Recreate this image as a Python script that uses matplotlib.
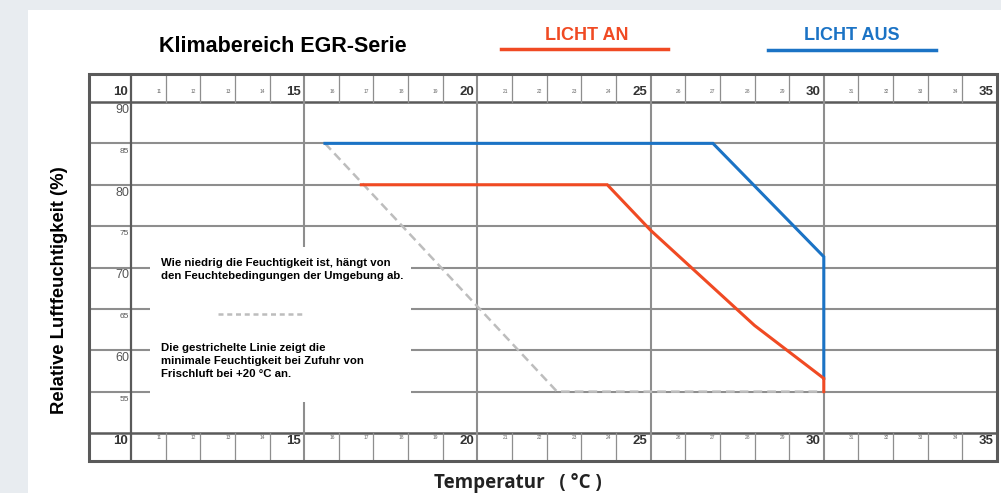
import matplotlib.pyplot as plt
from matplotlib.patches import Rectangle

# data
temps = list(range(10, 36))
rh_levels = [90, 85, 80, 75, 70, 65, 60, 55]

licht_an_t = [16.65, 23.75, 25.0, 28.0, 30.0, 30.0]
licht_an_rh = [80.0, 80.0, 74.5, 63.0, 56.6, 55.0]

licht_aus_t = [15.6, 26.8, 30.0, 30.0]
licht_aus_rh = [85.0, 85.0, 71.3, 56.6]

min_rh_t = [15.6, 22.3, 30.0]
min_rh_v = [85.0, 55.0, 55.0]

RED = '#f04a23'
BLUE = '#1b73c5'
GRID = '#8e8e8e'
FRAME = '#5a5a5a'
DASH = '#bdbdbd'

plt.rcParams['font.family'] = ['Liberation Sans', 'DejaVu Sans']

fig = plt.figure(figsize=(10.01, 4.93), dpi=100)
fig.patch.set_facecolor('#e8ecf0')
fig.patches.append(Rectangle((28 / 1001, 0), 1, 1 - 10 / 493, transform=fig.transFigure,
                             facecolor='white', edgecolor='none', zorder=-10))

# axes covers the whole table frame, header rows included
x_left, x_right = 10 - 42 / 34.68, 35
y_bot, y_top = 50 - 28 / 8.275, 90 + 28 / 8.275
ax = fig.add_axes([89 / 1001, 32 / 493, 908 / 1001, 387 / 493])
ax.set_zorder(1)
ax.set_xlim(x_left, x_right)
ax.set_ylim(y_bot, y_top)
ax.axis('off')

# table lines
for rh in rh_levels[1:]:
    ax.plot([x_left, x_right], [rh, rh], color=GRID, lw=1.5, zorder=1)
for y in (50, 90):
    ax.plot([x_left, x_right], [y, y], color=FRAME, lw=1.8, zorder=1)
for t in temps[1:-1]:
    if t % 5 == 0:
        ax.plot([t, t], [y_bot, y_top], color=GRID, lw=1.5, zorder=1)
    else:
        ax.plot([t, t], [90, y_top], color=GRID, lw=0.9, zorder=1)
        ax.plot([t, t], [y_bot, 50], color=GRID, lw=0.9, zorder=1)
ax.plot([10, 10], [y_bot, y_top], color=FRAME, lw=1.6, zorder=1)
ax.add_patch(Rectangle((x_left, y_bot), x_right - x_left, y_top - y_bot, fill=False,
                       edgecolor=FRAME, lw=2.2, zorder=5, clip_on=False))

# temperature labels in header and footer rows
for t in temps:
    if t % 5 == 0:
        ax.text(t - 0.1, 91.2, str(t), ha='right', va='center', fontsize=9.5,
                fontweight='bold', color='#333333')
        ax.text(t - 0.1, 49.0, str(t), ha='right', va='center', fontsize=9.5,
                fontweight='bold', color='#333333')
    else:
        ax.text(t - 0.12, 91.3, str(t), ha='right', va='center', fontsize=3.5, color='#666666')
        ax.text(t - 0.12, 49.5, str(t), ha='right', va='center', fontsize=3.5, color='#666666')

# humidity labels
for rh in rh_levels:
    big = rh % 10 == 0
    ax.text(10 - 0.06, rh - 0.95, str(rh), ha='right', va='center',
            fontsize=9 if big else 6, color='#555555')

# note box
ax.add_patch(Rectangle((10.55, 53.75), 7.52, 18.73, facecolor='white', edgecolor='none', zorder=2))
ax.text(10.87, 70.54, 'Wie niedrig die Feuchtigkeit ist, hängt von', fontsize=8.2,
        fontweight='bold', va='center', zorder=3)
ax.text(10.87, 68.97, 'den Feuchtebedingungen der Umgebung ab.', fontsize=8.2,
        fontweight='bold', va='center', zorder=3)
ax.plot([12.51, 15.02], [64.38, 64.38], color=DASH, lw=1.8, ls=(0, (2, 1.5)), zorder=3)
for y, s in zip([60.27, 58.7, 57.13], ['Die gestrichelte Linie zeigt die',
                                       'minimale Feuchtigkeit bei Zufuhr von',
                                       'Frischluft bei +20 °C an.']):
    ax.text(10.87, y, s, fontsize=8.2, fontweight='bold', va='center', zorder=3)

# curves
ax.plot(min_rh_t, min_rh_v, color=DASH, lw=1.8, ls=(0, (3.5, 2)), zorder=3)
ax.plot(licht_aus_t, licht_aus_rh, color=BLUE, lw=2.2, zorder=4, solid_joinstyle='miter')
ax.plot(licht_an_t, licht_an_rh, color=RED, lw=2.2, zorder=4, solid_joinstyle='miter')

# titles and legend
fig.text(283 / 1001, 1 - 46 / 493, 'Klimabereich EGR-Serie', ha='center', va='center',
         fontsize=15.5, fontweight='bold')
fig.text(587 / 1001, 1 - 36 / 493, 'LICHT AN', ha='center', va='center', fontsize=13,
         fontweight='bold', color=RED)
fig.text(852 / 1001, 1 - 36 / 493, 'LICHT AUS', ha='center', va='center', fontsize=13,
         fontweight='bold', color=BLUE)
fig.lines.append(plt.Line2D([501 / 1001, 668 / 1001], [1 - 49 / 493] * 2, transform=fig.transFigure,
                            color=RED, lw=2.5))
fig.lines.append(plt.Line2D([768 / 1001, 936 / 1001], [1 - 50 / 493] * 2, transform=fig.transFigure,
                            color=BLUE, lw=2.5))

fig.text(60 / 1001, 1 - 290 / 493, 'Relative Luftfeuchtigkeit (%)', rotation=90, ha='center',
         va='center', fontsize=13.3, fontweight='bold')
fig.text(518 / 1001, 1 - 483 / 493, 'Temperatur   ( °C )', ha='center', va='center',
         fontsize=13.5, fontweight='bold', color='#222222', family=['Open Sans', 'DejaVu Sans'])

fig.savefig('out.png', dpi=100, facecolor=fig.get_facecolor())
